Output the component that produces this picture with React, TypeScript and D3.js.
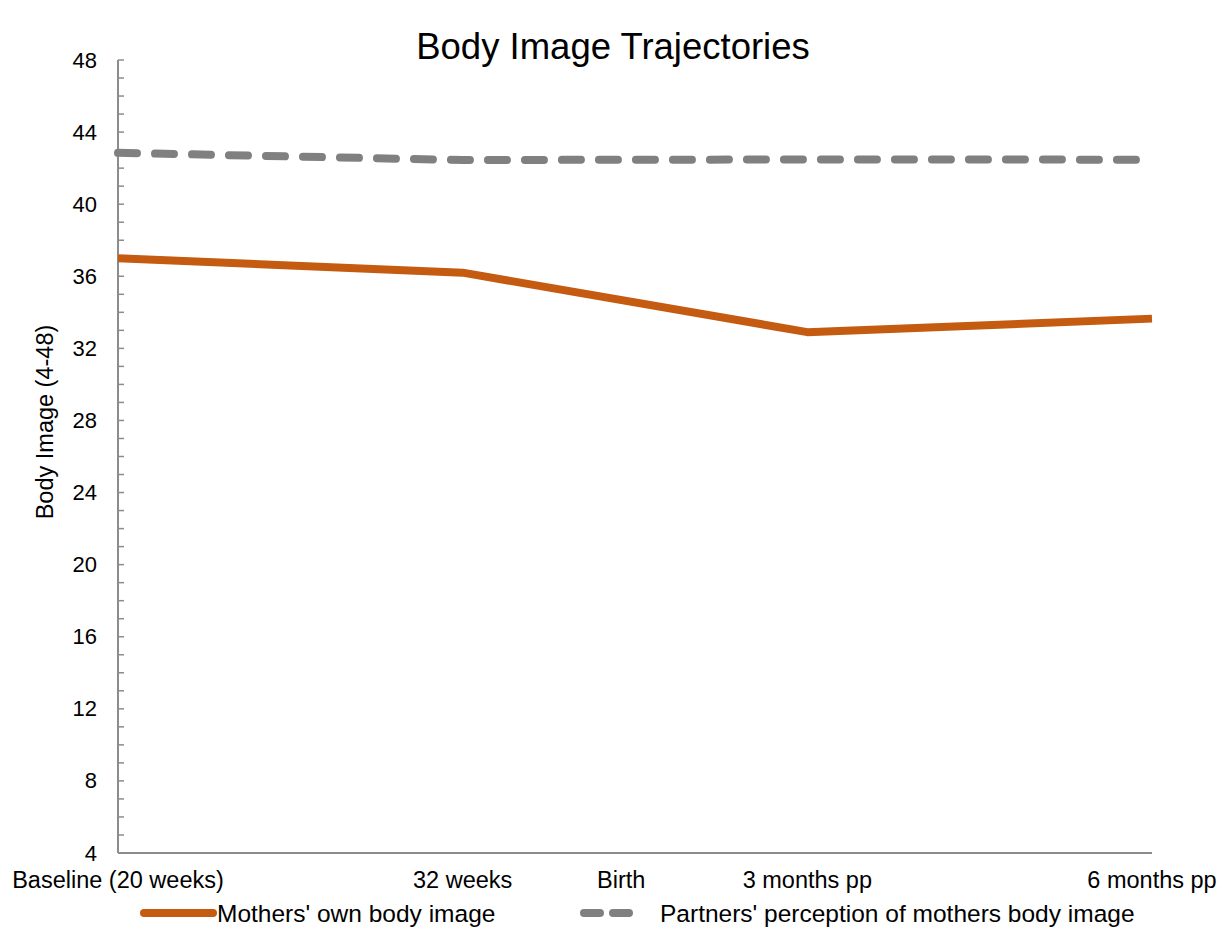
import React from 'react';
import * as d3 from 'd3';

// time points (equally spaced positions), "Birth" only labels the axis
const timeLabels = ['Baseline (20 weeks)', '32 weeks', 'Birth', '3 months pp', '6 months pp'];
const labelPositions = [0, 1, 1.46, 2, 3];
const dataPositions = [0, 1, 2, 3];

const mothersOwn = [37.0, 36.2, 32.9, 33.65];
const partnersPerception = [42.85, 42.45, 42.48, 42.47];

const yTicks = [4, 8, 12, 16, 20, 24, 28, 32, 36, 40, 44, 48];

const W = 1210;
const H = 924;
const margin = { left: 110, right: 1144, top: 52, bottom: 845 };

const App = () => {
  const x = d3.scaleLinear().domain([0, 3]).range([margin.left, margin.right]);
  const y = d3.scaleLinear().domain([4, 48]).range([margin.bottom, margin.top]);

  const line = d3.line<number>()
    .x((d, i) => x(dataPositions[i]))
    .y(d => y(d));

  const minor = d3.range(4, 49, 1);
  const axisColor = '#8c8c8c';
  const font = 'Liberation Sans, Arial, sans-serif';

  return (
    <svg width={W} height={H} style={{ display: 'block' }}>
      <rect width={W} height={H} fill="#fff" />
      <text x={605} y={51} textAnchor="middle" fontFamily={font} fontSize={36.5} fill="#000">
        Body Image Trajectories
      </text>

      {/* y axis */}
      <line x1={x(0)} x2={x(0)} y1={y(48)} y2={y(4)} stroke={axisColor} strokeWidth={2} />
      {minor.map(v => (
        <line key={v} x1={x(0)} x2={x(0) + 6} y1={y(v)} y2={y(v)} stroke={axisColor} strokeWidth={1.5} />
      ))}
      {yTicks.map(v => (
        <text key={v} x={x(0) - 21} y={y(v) + 7.5} textAnchor="end" fontFamily={font} fontSize={22} fill="#000">
          {v}
        </text>
      ))}
      <text
        transform={`translate(${45},${414}) rotate(-90)`}
        textAnchor="middle"
        fontFamily={font}
        fontSize={23.5}
        fill="#000"
      >
        Body Image (4-48)
      </text>

      {/* x axis */}
      <line x1={x(0)} x2={x(3)} y1={y(4)} y2={y(4)} stroke={axisColor} strokeWidth={2} />
      {timeLabels.map((t, i) => (
        <text key={t} x={x(labelPositions[i])} y={y(4) + 35} textAnchor="middle" fontFamily={font} fontSize={23.5} fill="#000">
          {t}
        </text>
      ))}

      {/* series */}
      <path d={line(partnersPerception) || ''} fill="none" stroke="#808080" strokeWidth={8}
        strokeDasharray="19 18" strokeLinecap="round" />
      <path d={line(mothersOwn) || ''} fill="none" stroke="#c55a11" strokeWidth={8} strokeLinejoin="round" />

      {/* legend */}
      <line x1={136} x2={205} y1={905} y2={905} stroke="#c55a11" strokeWidth={8} strokeLinecap="round" />
      <text x={209} y={914} fontFamily={font} fontSize={24.5} fill="#000">Mothers' own body image</text>
      <line x1={576} x2={634} y1={905} y2={905} stroke="#808080" strokeWidth={8}
        strokeDasharray="16 13" strokeLinecap="round" />
      <text x={652} y={914} fontFamily={font} fontSize={24.5} fill="#000">
        Partners' perception of mothers body image
      </text>
    </svg>
  );
};

export default App;
